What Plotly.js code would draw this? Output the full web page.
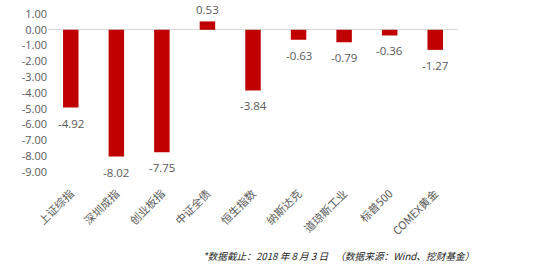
<!DOCTYPE html>
<html>
<head>
<meta charset="utf-8">
<script src="https://cdn.plot.ly/plotly-3.0.1.min.js"></script>
<style>html,body{margin:0;padding:0;background:#fff;}#chart{width:542px;height:278px;}</style>
</head>
<body>
<div id="chart"></div>
<script>
const categories = ["上证综指", "深圳成指", "创业板指", "中证全债", "恒生指数", "纳斯达克", "道琼斯工业", "标普500", "COMEX黄金"];
const values = [-4.92, -8.02, -7.75, 0.53, -3.84, -0.63, -0.79, -0.36, -1.27];
const yTicks = [1, 0, -1, -2, -3, -4, -5, -6, -7, -8, -9];
const footnote = "*数据截止：2018 年 8 月 3 日 　（数据来源：Wind、挖财基金）";

const trace = {
  type: 'bar',
  x: categories,
  y: values,
  marker: {color: '#C00000'},
  cliponaxis: false,
  hoverinfo: 'none'
};

const labelAnns = categories.map((c, i) => ({
  x: c, y: values[i], xref: 'x', yref: 'y',
  text: values[i].toFixed(2),
  showarrow: false,
  xanchor: 'center',
  yanchor: values[i] < 0 ? 'top' : 'bottom',
  yshift: values[i] < 0 ? -6 : 2,
  font: {family: 'Open Sans, Noto Sans CJK SC, sans-serif', size: 11.5, color: '#595959'}
}));

const layout = {
  width: 542, height: 278,
  margin: {l: 48, r: 84, t: 14, b: 106},
  paper_bgcolor: '#fff', plot_bgcolor: '#fff',
  showlegend: false,
  bargap: 0.66,
  font: {family: 'Noto Sans CJK SC, sans-serif', color: '#595959', size: 11},
  xaxis: {
    type: 'category',
    tickangle: -45,
    ticklabelstandoff: 12,
    showgrid: false, showline: false, zeroline: false, ticks: '',
    tickfont: {family: 'Noto Sans CJK SC, sans-serif', size: 11, color: '#595959'}
  },
  yaxis: {
    range: [-9, 1],
    tickvals: yTicks,
    ticktext: yTicks.map(v => v.toFixed(2)),
    showgrid: false, showline: false, ticks: '',
    zeroline: true, zerolinecolor: '#d9d9d9', zerolinewidth: 1,
    tickfont: {family: 'Open Sans, sans-serif', size: 11, color: '#595959'}
  },
  annotations: labelAnns.concat([{
    xref: 'paper', yref: 'paper', x: 1.045, y: -0.53,
    xanchor: 'right', yanchor: 'middle', showarrow: false,
    text: '<i>' + footnote + '</i>',
    font: {family: 'Noto Sans CJK SC, sans-serif', size: 9.7, color: '#222'}
  }])
};

Plotly.newPlot('chart', [trace], layout, {displayModeBar: false, staticPlot: true});
</script>
</body>
</html>
